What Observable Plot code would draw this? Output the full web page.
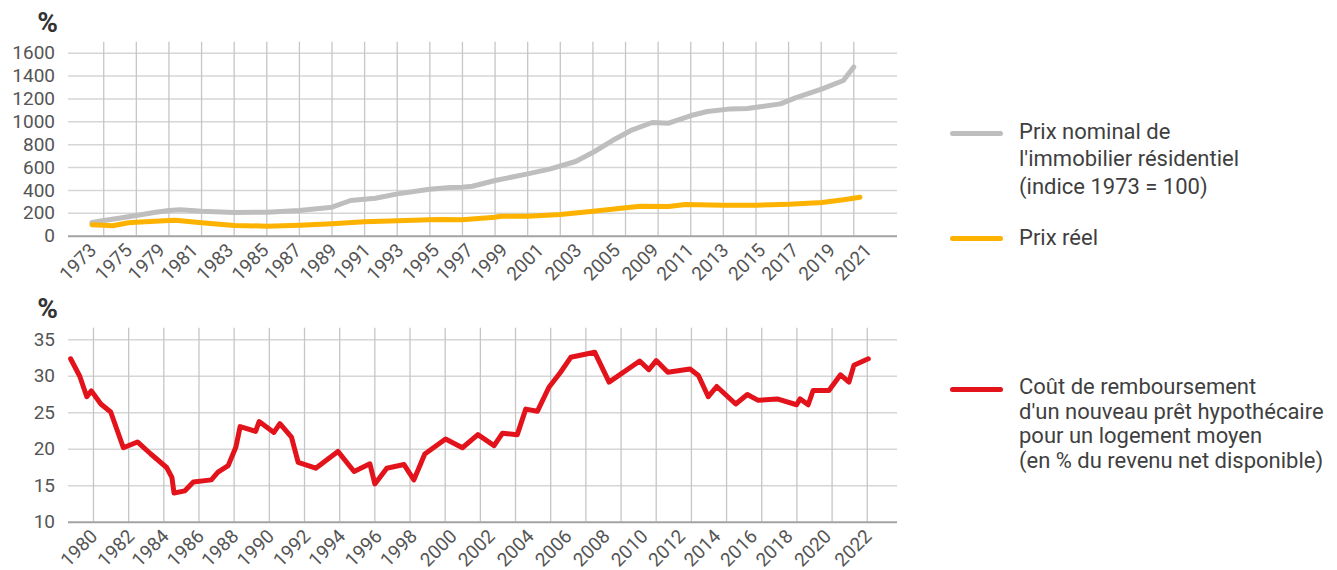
<!DOCTYPE html>
<html><head><meta charset="utf-8">
<script src="https://cdn.jsdelivr.net/npm/d3@7"></script>
<script src="https://cdn.jsdelivr.net/npm/@observablehq/plot@0.6"></script>
<style>
body{margin:0;background:#fff;font-family:Roboto,"Noto Sans",sans-serif;}
#wrap{position:relative;width:1337px;height:570px;overflow:hidden;}
.chart{position:absolute;left:0;}
.sw{position:absolute;left:950px;width:53px;height:5px;border-radius:3px;}
.lg{position:absolute;left:1019px;font-size:22px;color:#3f3f3f;white-space:nowrap;}
</style></head>
<body><div id="wrap"></div>
<script>
// ---- Top chart: house prices (x in category/gridline units of the original category axis)
const topXLabels = ["1973","1975","1979","1981","1983","1985","1987","1989","1991","1993","1995","1997","1999","2001","2003","2005","2009","2011","2013","2015","2017","2019","2021"];
const topXLabelPos = [-0.41,0.68,1.69,2.70,3.79,4.87,5.87,6.96,7.99,9.01,10.10,11.14,12.20,13.30,14.47,15.65,16.83,17.90,18.97,20.10,21.12,22.25,23.36];
const topYTicks = [0,200,400,600,800,1000,1200,1400,1600];
const topGrid = d3.range(0, 24);

const nominalX = [-0.36,0,0.36,1.0,1.59,2.0,2.35,3.0,4.01,5.0,6.0,7.0,7.57,7.99,8.33,9.01,9.99,10.63,10.99,11.31,12.0,13.0,13.7,14.47,15.01,15.6,16.21,16.82,17.32,18.01,18.51,19.22,19.74,20.01,20.75,21.21,22.03,22.68,23.0];
const nominalY = [120,137,152,181,210,225,231,219,207,210,225,254,312,323,332,370,411,426,428,437,487,545,589,653,734,836,930,994,988,1055,1090,1113,1116,1127,1157,1209,1288,1361,1480];
const realX = [-0.36,0,0.27,0.76,1.0,2.0,2.2,3.0,3.73,4.01,5.0,6.0,7.0,7.99,9.01,9.99,10.33,10.99,12.0,12.17,13.0,14.0,15.01,16.01,16.46,17.32,17.84,19.0,20.01,21.02,22.03,22.68,23.19];
const realY = [100,96,91,117,122,137,140,117,100,94,88,96,108,126,134,143,146,143,166,175,175,190,219,248,262,260,277,271,271,280,295,318,341];

// ---- Bottom chart: mortgage repayment cost (% of disposable income)
const botXLabels = ["1980","1982","1984","1986","1988","1990","1992","1994","1996","1998","2000","2002","2004","2006","2008","2010","2012","2014","2016","2018","2020","2022"];
const botXLabelPos = [-0.06,0.99,1.97,2.97,3.95,4.96,5.99,6.99,8.03,9.03,10.16,11.24,12.35,13.43,14.51,15.59,16.65,17.66,18.70,19.71,20.80,21.95];
const botYTicks = [10,15,20,25,30,35];
const botGrid = d3.range(0, 23);

const costX = [-0.65,-0.39,-0.19,-0.06,0.21,0.49,0.85,1.25,1.63,2.08,2.23,2.29,2.60,2.84,3.35,3.54,3.83,4.05,4.17,4.61,4.71,5.13,5.30,5.63,5.82,6.32,6.95,7.41,7.86,8.0,8.34,8.83,9.11,9.42,10.01,10.49,10.93,11.39,11.63,12.05,12.29,12.62,12.95,13.28,13.57,14.25,14.66,15.53,15.79,16.0,16.33,16.96,17.2,17.48,17.72,18.26,18.59,18.9,19.44,19.99,20.09,20.32,20.46,20.91,21.24,21.48,21.62,22.03];
const costY = [32.4,30.0,27.2,28.0,26.2,25.1,20.2,21.0,19.35,17.5,16.15,14.0,14.3,15.5,15.8,16.85,17.75,20.3,23.1,22.45,23.8,22.3,23.5,21.65,18.2,17.4,19.7,16.95,18.0,15.25,17.4,17.9,15.8,19.35,21.4,20.2,22.0,20.5,22.2,22.0,25.5,25.2,28.5,30.55,32.6,33.3,29.2,32.1,30.9,32.15,30.55,31.0,30.1,27.2,28.6,26.2,27.5,26.7,26.9,26.1,26.9,26.1,28.05,28.05,30.2,29.2,31.5,32.4];

const GRAY = "#bebebe", YELLOW = "#fdb200", RED = "#e3131b";
const FONT = "Roboto";

function chart({xDomain, yDomain, mt, mb, grid, yTicks, xPos, xLabels, lines}) {
  const labelAt = new Map(xPos.map((p, i) => [p, xLabels[i]]));
  return Plot.plot({
    width: 900, height: 285,
    marginLeft: 68, marginRight: 3, marginTop: mt, marginBottom: mb,
    style: {fontFamily: FONT, fontSize: "19px", color: "#555", background: "transparent", overflow: "visible"},
    x: {domain: xDomain, axis: null},
    y: {domain: yDomain, axis: null},
    marks: [
      Plot.ruleY(yTicks.slice(1), {stroke: "#d6d6d6", strokeWidth: 1.5}),
      Plot.ruleX(grid, {stroke: "#c6c6c6", strokeWidth: 1.3}),
      Plot.ruleY([yDomain[0]], {stroke: "#a3a3a3", strokeWidth: 2}),
      Plot.axisY(yTicks, {tickSize: 0, tickPadding: 13.5, fill: "#555", letterSpacing: "-0.4px", label: null, tickFormat: d => String(d)}),
      Plot.axisX(xPos, {tickSize: 0, tickPadding: 11, dx: 3, tickRotate: -45, fill: "#555", letterSpacing: "-0.3px", label: null, tickFormat: d => labelAt.get(d)}),
      ...lines.map(l => Plot.line(l.x.map((x, i) => ({x, y: l.y[i]})), {x: "x", y: "y", stroke: l.color, strokeWidth: 5, strokeLinejoin: "round", strokeLinecap: "round"})),
      Plot.text(["%"], {frameAnchor: "top-left", dx: -21, dy: -10, lineAnchor: "bottom", textAnchor: "middle", fontWeight: "bold", fontSize: 28, fill: "#333"})
    ]
  });
}

const wrap = document.getElementById("wrap");
const c1 = chart({xDomain: [-1.08, 24.34], yDomain: [0, 1696], mt: 41.7, mb: 49.3, grid: topGrid, yTicks: topYTicks,
  xPos: topXLabelPos, xLabels: topXLabels,
  lines: [{x: nominalX, y: nominalY, color: GRAY}, {x: realX, y: realY, color: YELLOW}]});
c1.classList.add("chart"); c1.style.top = "0px";
wrap.appendChild(c1);

const c2 = chart({xDomain: [-0.71, 22.86], yDomain: [10, 36.59], mt: 42.7, mb: 48.3, grid: botGrid, yTicks: botYTicks,
  xPos: botXLabelPos, xLabels: botXLabels,
  lines: [{x: costX, y: costY, color: RED}]});
c2.classList.add("chart"); c2.style.top = "285px";
wrap.appendChild(c2);

// ---- Legends
const legends = [
  {color: GRAY, swY: 133.3, top: 117.7, lh: 27.7, lines: ["Prix nominal de", "l'immobilier résidentiel", "(indice 1973 = 100)"]},
  {color: YELLOW, swY: 238.3, top: 223.7, lh: 27.7, lines: ["Prix réel"]},
  {color: RED, swY: 389.3, top: 375.3, lh: 24.5, lines: ["Coût de remboursement", "d'un nouveau prêt hypothécaire", "pour un logement moyen", "(en % du revenu net disponible)"]}
];
for (const l of legends) {
  const sw = document.createElement("div");
  sw.className = "sw"; sw.style.top = (l.swY - 2.5) + "px"; sw.style.background = l.color;
  wrap.appendChild(sw);
  const t = document.createElement("div");
  t.className = "lg"; t.style.top = l.top + "px"; t.style.lineHeight = l.lh + "px";
  t.innerHTML = l.lines.join("<br>");
  wrap.appendChild(t);
}
</script>
</body></html>
